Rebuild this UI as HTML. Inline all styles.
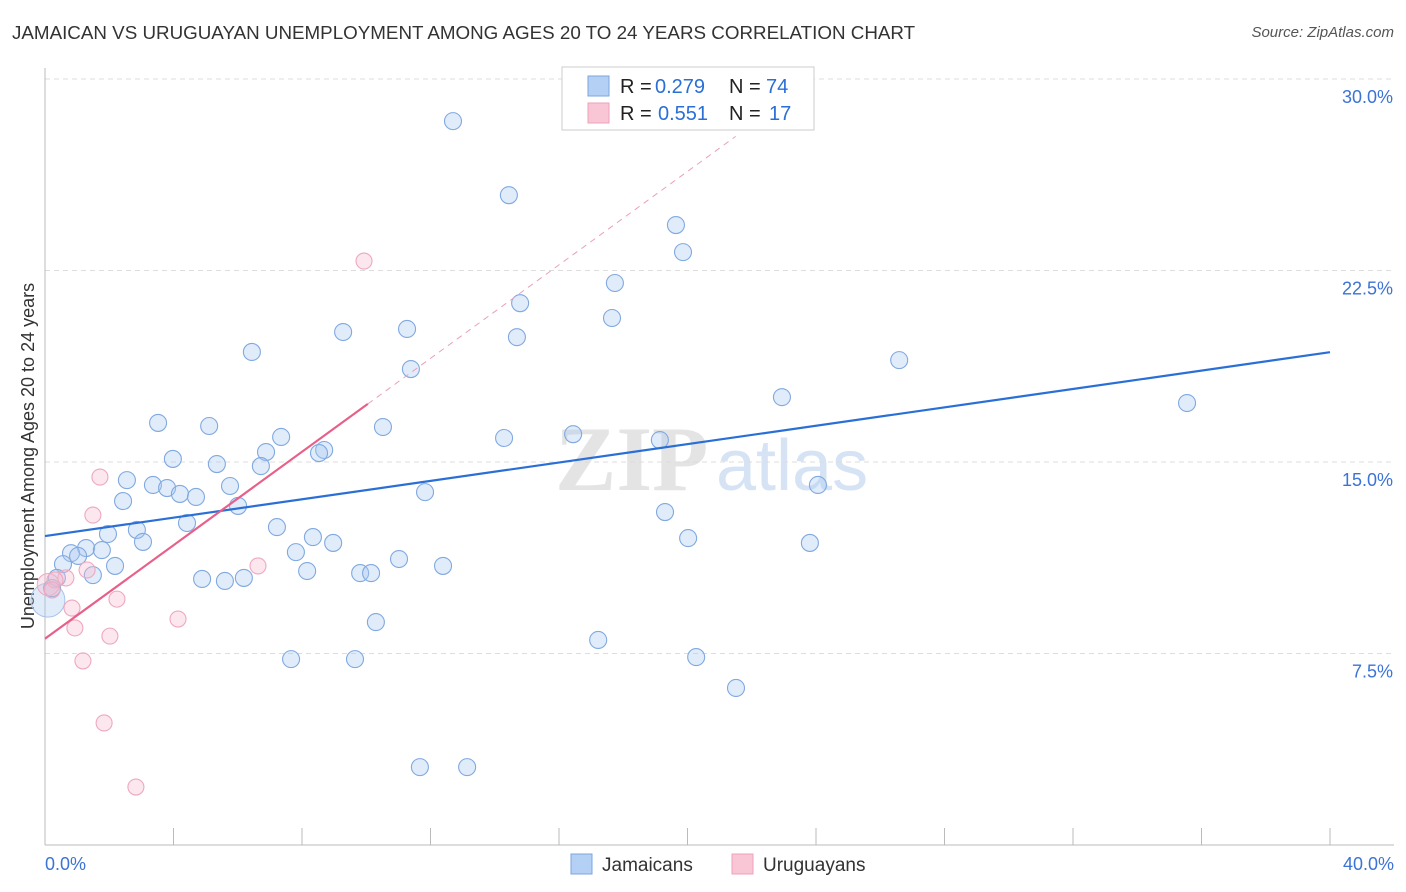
<!DOCTYPE html>
<html><head><meta charset="utf-8"><style>
body{margin:0;background:#fff;font-family:"Liberation Sans",sans-serif;}
#wrap{position:relative;width:1406px;height:892px;overflow:hidden;}
.t{position:absolute;white-space:nowrap;}
</style></head><body>
<div id="wrap">
<div class="t" style="left:12px;top:22px;font-size:18.8px;color:#333;">JAMAICAN VS URUGUAYAN UNEMPLOYMENT AMONG AGES 20 TO 24 YEARS CORRELATION CHART</div>
<div class="t" style="right:12px;top:24px;font-size:15px;color:#555;font-style:italic;">Source: ZipAtlas.com</div>
<svg id="svg" width="1406" height="892" style="position:absolute;left:0;top:0"></svg>
</div>
<script>
const xTickLabels=["0.0%","40.0%"];
const yTicks=[7.5,15,22.5,30];
const yTickLabels=["7.5%","15.0%","22.5%","30.0%"];
const jamX=[12.70,14.44,19.64,19.86,17.74,14.79,17.65,11.27,9.28,14.69,6.44,26.59,11.39,22.94,35.55,3.52,5.11,10.52,7.35,16.44,14.29,19.14,6.88,8.69,8.53,3.98,5.35,6.72,2.55,3.36,3.80,5.76,4.20,4.70,11.83,24.06,2.43,6.01,19.30,4.42,7.22,2.86,1.96,8.34,20.02,3.05,8.97,23.81,1.28,1.77,0.81,1.03,7.81,11.02,0.56,2.18,12.39,8.16,9.81,10.15,1.49,6.19,4.89,5.60,0.37,0.22,10.30,17.22,7.66,9.65,20.27,21.51,11.67,13.14];
const jamY=[28.35,25.45,24.28,23.22,22.01,21.22,20.64,20.21,20.09,19.89,19.31,18.99,18.64,17.54,17.31,16.53,16.41,16.37,15.98,16.09,15.94,15.86,15.39,15.47,15.35,15.12,14.92,14.84,14.29,14.10,13.98,14.06,13.75,13.63,13.82,14.10,13.47,13.28,13.04,12.61,12.45,12.34,12.18,12.06,12.02,11.87,11.83,11.83,11.63,11.55,11.43,11.32,11.47,11.20,11.00,10.93,10.93,10.73,10.65,10.65,10.57,10.46,10.42,10.34,10.46,10.06,8.73,8.03,7.28,7.28,7.36,6.15,3.05,3.05];
const uruX=[9.93,1.71,1.49,6.63,1.31,0.65,0.31,0.22,2.24,0.84,4.14,0.93,2.02,1.18,1.84,2.83];
const uruY=[22.87,14.41,12.92,10.93,10.77,10.46,10.38,9.99,9.63,9.28,8.85,8.50,8.18,7.21,4.78,2.27];
const jamFit=[12.1,0.18];
const uruFit=[8.08,0.915];
const sx=v=>45+v/40*1285, sy=v=>845-v/7.5*191.5;
const svg=document.getElementById('svg');const NS='http://www.w3.org/2000/svg';
function el(tag,attrs,parent){const e=document.createElementNS(NS,tag);for(const k in attrs)e.setAttribute(k,attrs[k]);(parent||svg).appendChild(e);return e;}
let w=el('text',{x:555,y:490,'font-size':92,'font-family':'Liberation Serif',fill:'#e4e4e4','font-weight':'bold'});w.textContent='ZIP';


let w2=el('text',{x:716,y:490,'font-size':72,'font-family':'Liberation Sans',fill:'#d5e3f5'});w2.textContent='atlas';


yTicks.forEach((v,i)=>{const g=el('line',{x1:45,x2:1394,y1:sy(v),y2:sy(v),stroke:'#ddd','stroke-dasharray':'5,4'});


const t=el('text',{x:1393,y:sy(v)+24,'text-anchor':'end','font-size':18,fill:'#3b73d6'});t.textContent=yTickLabels[i];

});
const ax=el('line',{x1:45,x2:45,y1:68,y2:845,stroke:'#bbb'});


const bx=el('line',{x1:45,x2:1394,y1:845,y2:845,stroke:'#bbb'});


for(let i=1;i<=10;i++){const tk=el('line',{x1:sx(i*4),x2:sx(i*4),y1:828,y2:845,stroke:'#bbb'});

}
[[0,'start',45],[1,'end',1394]].forEach(([i,a,x])=>{const t=el('text',{x:x,y:870,'text-anchor':a,'font-size':18,fill:'#3b73d6'});t.textContent=xTickLabels[i];

});
const yt=el('text',{x:0,y:0,'font-size':18,fill:'#333','text-anchor':'middle',transform:'translate(34,456) rotate(-90)'});yt.textContent='Unemployment Among Ages 20 to 24 years';


const bj=el('circle',{cx:sx(0.09),cy:sy(9.59),r:17,fill:'rgba(170,200,240,0.35)',stroke:'#a8c4ea'});


jamX.forEach((x,i)=>{const c=el('circle',{cx:sx(x),cy:sy(jamY[i]),r:8.5,fill:'rgba(170,200,240,0.35)',stroke:'#80a9e0','stroke-width':1.1});

});
const bu=el('circle',{cx:sx(0.1),cy:sy(10.2),r:11,fill:'rgba(245,185,205,0.35)',stroke:'#eea8bd'});


uruX.forEach((x,i)=>{const c=el('circle',{cx:sx(x),cy:sy(uruY[i]),r:8,fill:'rgba(245,185,205,0.35)',stroke:'#eea8bd','stroke-width':1.1});

});
const jl=el('line',{x1:sx(0),y1:sy(jamFit[0]),x2:sx(40),y2:sy(jamFit[0]+jamFit[1]*40),stroke:'#2a6fd6','stroke-width':2.2});


const ul=el('line',{x1:sx(0),y1:sy(uruFit[0]),x2:sx(10.05),y2:sy(uruFit[0]+uruFit[1]*10.05),stroke:'#e8608a','stroke-width':2.2});


const ud=el('line',{x1:sx(10.05),y1:sy(uruFit[0]+uruFit[1]*10.05),x2:sx(21.5),y2:sy(uruFit[0]+uruFit[1]*21.5),stroke:'#eaa0b8','stroke-width':1,'stroke-dasharray':'6,5'});


const lg=el('rect',{x:562,y:67,width:252,height:63,fill:'#fff',stroke:'#ccc'});


[[86,'#b5d0f5','#7aa6e0','0.279','74',655,766],[113,'#f9c6d5','#eea0b8','0.551','17',658,769]].forEach(([y,f,s,r,n,rx,nx])=>{
const sw=el('rect',{x:588,y:y-10,width:21,height:20,fill:f,stroke:s});


const pairs=[[620,'R =','#222'],[rx,r,'#2a6fd6'],[729,'N =','#222'],[nx,n,'#2a6fd6']];
pairs.forEach(([x,txt,col])=>{const t=el('text',{x:x,y:y+7,'font-size':20,fill:col});t.textContent=txt;

});});
[[571,'#b5d0f5','#7aa6e0','Jamaicans'],[732,'#f9c6d5','#eea0b8','Uruguayans']].forEach(([x,f,s,l])=>{
const sw=el('rect',{x:x,y:854,width:21,height:20,fill:f,stroke:s});


const t=el('text',{x:x+31,y:871,'font-size':19,fill:'#333'});t.textContent=l;

});
</script>
</body></html>
